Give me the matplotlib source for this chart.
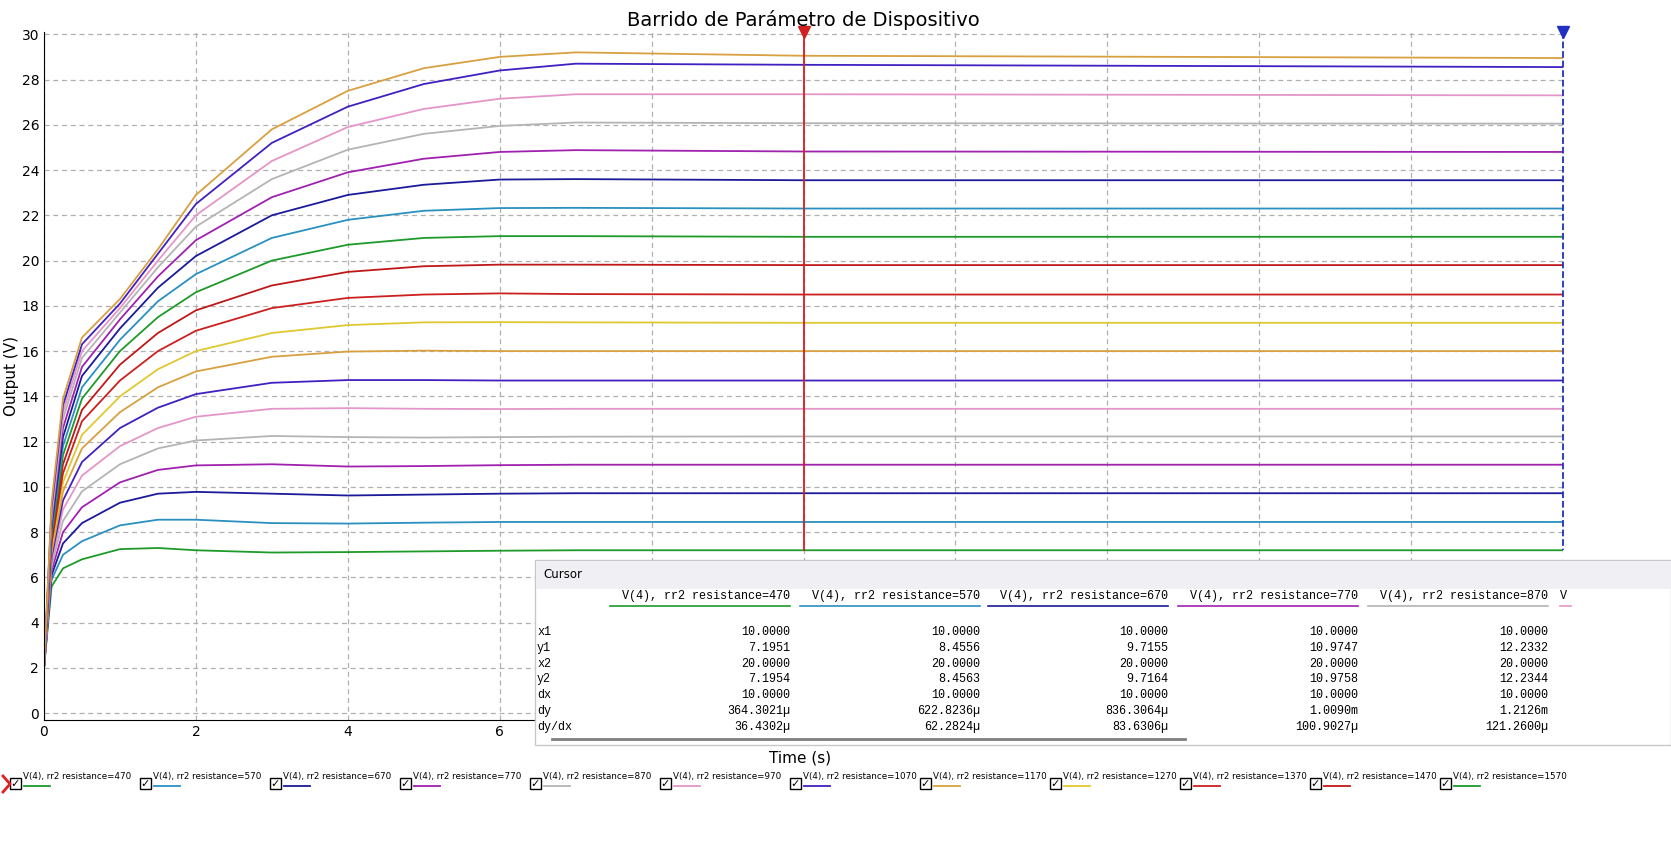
import numpy as np
import matplotlib.pyplot as plt
from matplotlib.patches import Rectangle

# sweep data
resistances = [470, 570, 670, 770, 870, 970, 1070, 1170, 1270, 1370,
               1470, 1570, 1670, 1770, 1870, 1970, 2070, 2170, 2270]
t = [0, 0.1, 0.25, 0.5, 1, 1.5, 2, 3, 4, 5, 6, 7, 10, 20]
v = [
    [2, 5.6, 6.4, 6.8, 7.25, 7.3, 7.2, 7.1, 7.12, 7.15, 7.18, 7.2, 7.2, 7.2],
    [2, 5.9, 7.0, 7.6, 8.3, 8.55, 8.55, 8.4, 8.38, 8.42, 8.45, 8.45, 8.45, 8.45],
    [2, 6.1, 7.5, 8.4, 9.3, 9.7, 9.78, 9.7, 9.62, 9.66, 9.7, 9.72, 9.72, 9.72],
    [2, 6.3, 8.0, 9.1, 10.2, 10.75, 10.95, 11.0, 10.9, 10.92, 10.96, 10.98, 10.98, 10.98],
    [2, 6.5, 8.5, 9.8, 11.0, 11.7, 12.05, 12.25, 12.2, 12.18, 12.2, 12.22, 12.23, 12.23],
    [2, 6.7, 9.0, 10.5, 11.8, 12.6, 13.1, 13.45, 13.48, 13.45, 13.44, 13.45, 13.45, 13.45],
    [2, 6.9, 9.4, 11.1, 12.6, 13.5, 14.1, 14.6, 14.72, 14.72, 14.7, 14.7, 14.7, 14.7],
    [2, 7.1, 9.8, 11.7, 13.3, 14.4, 15.1, 15.75, 15.98, 16.02, 16.0, 16.0, 16.0, 16.0],
    [2, 7.3, 10.2, 12.3, 14.0, 15.2, 16.0, 16.8, 17.15, 17.27, 17.28, 17.27, 17.25, 17.25],
    [2, 7.5, 10.6, 12.9, 14.7, 16.0, 16.9, 17.9, 18.35, 18.5, 18.55, 18.52, 18.5, 18.5],
    [2, 7.7, 11.0, 13.4, 15.4, 16.8, 17.8, 18.9, 19.5, 19.75, 19.82, 19.82, 19.8, 19.8],
    [2, 7.9, 11.4, 13.9, 16.0, 17.5, 18.6, 20.0, 20.7, 21.0, 21.08, 21.08, 21.05, 21.05],
    [2, 8.1, 11.8, 14.4, 16.5, 18.2, 19.4, 21.0, 21.8, 22.2, 22.32, 22.33, 22.3, 22.3],
    [2, 8.3, 12.2, 14.9, 17.0, 18.8, 20.2, 22.0, 22.9, 23.35, 23.58, 23.6, 23.55, 23.55],
    [2, 8.5, 12.6, 15.3, 17.4, 19.3, 20.9, 22.8, 23.9, 24.5, 24.8, 24.88, 24.82, 24.8],
    [2, 8.7, 13.0, 15.7, 17.7, 19.7, 21.5, 23.6, 24.9, 25.6, 25.95, 26.1, 26.07, 26.05],
    [2, 8.9, 13.3, 16.0, 17.9, 20.0, 22.0, 24.4, 25.9, 26.7, 27.15, 27.35, 27.35, 27.3],
    [2, 9.1, 13.6, 16.3, 18.1, 20.3, 22.5, 25.2, 26.8, 27.8, 28.4, 28.7, 28.65, 28.55],
    [2, 9.3, 13.9, 16.6, 18.3, 20.5, 22.9, 25.8, 27.5, 28.5, 29.0, 29.2, 29.05, 28.95],
]
colors = ['#1e9a2a', '#2a90c0', '#1a1a9a', '#a020b0', '#b4b4b4', '#e496c8',
          '#4020c0', '#d8a040', '#e0c830', '#cc2020', '#c01818']

# cursor table
cursor_cols = [470, 570, 670, 770, 870]
rows = ['x1', 'y1', 'x2', 'y2', 'dx', 'dy', 'dy/dx']
x1 = ['10.0000'] * 5
y1 = ['7.1951', '8.4556', '9.7155', '10.9747', '12.2332']
x2 = ['20.0000'] * 5
y2 = ['7.1954', '8.4563', '9.7164', '10.9758', '12.2344']
dx = ['10.0000'] * 5
dy = ['364.3021µ', '622.8236µ', '836.3064µ', '1.0090m', '1.2126m']
dydx = ['36.4302µ', '62.2824µ', '83.6306µ', '100.9027µ', '121.2600µ']

fig = plt.figure(figsize=(16.71, 8.44), dpi=100)
ax = fig.add_axes([44/1671, 124/844, 1519/1671, 688/844])
for i, r in enumerate(resistances):
    ax.plot(t, v[i], color=colors[i % 11], lw=1.3)
ax.set_xlim(0, 20)
ax.set_ylim(-0.3, 30.1)
ax.set_yticks(range(0, 31, 2))
ax.set_xticks(range(0, 21, 2))
ax.grid(True, ls=(0, (4, 3)), color='#b0b0b0', lw=0.9)
for s in ['top', 'right']:
    ax.spines[s].set_visible(False)
ax.tick_params(labelsize=10, length=0)
ax.set_ylabel('Output (V)', fontsize=11, labelpad=2)
ax.set_title('Barrido de Parámetro de Dispositivo', fontsize=14, pad=4)

# cursors
ax.plot([10, 10], [30.1, 7.2], color='#d02020', lw=1.3, clip_on=False)
ax.plot([10], [30.1], marker='v', color='#d02020', ms=8, clip_on=False)
ax.plot([20, 20], [30.1, 7.2], color='#2030c0', lw=1.3, ls='--', clip_on=False)
ax.plot([20], [30.1], marker='v', color='#2030c0', ms=8, clip_on=False)

# overlay in pixel coordinates
ov = fig.add_axes([0, 0, 1, 1])
ov.set_xlim(0, 1671)
ov.set_ylim(844, 0)
ov.axis('off')
ov.patch.set_alpha(0)
ov.text(800, 758, 'Time (s)', fontsize=11, ha='center', va='center')

ov.add_patch(Rectangle((535, 560), 1136, 185, facecolor='white', edgecolor='#c8c8c8', lw=1))
ov.add_patch(Rectangle((536, 561), 1135, 28, facecolor='#f0f0f4', edgecolor='none'))
ov.text(543, 575, 'Cursor', fontsize=8.5, va='center')
mono = dict(family='Liberation Mono', fontsize=8.5, va='center')
col_right = [790, 980, 1168, 1358, 1548]
for j, r in enumerate(cursor_cols):
    ov.text(col_right[j], 596, 'V(4), rr2 resistance=%d' % r, ha='right', **mono)
    ov.plot([col_right[j] - 180, col_right[j]], [606, 606], color=colors[j], lw=1.2)
ov.text(1560, 596, 'V', ha='left', **mono)
ov.plot([1560, 1571], [606, 606], color=colors[5], lw=1.2)
table = [x1, y1, x2, y2, dx, dy, dydx]
for k, name in enumerate(rows):
    yy = 632 + 15.8 * k
    ov.text(537, yy, name, ha='left', **mono)
    for j in range(5):
        ov.text(col_right[j], yy, table[k][j], ha='right', **mono)
ov.plot([552, 1185], [739, 739], color='#808080', lw=2)

# bottom legend
leg_x = [10, 140, 270, 400, 530, 660, 790, 920, 1050, 1180, 1310, 1440]
for j, r in enumerate(resistances[:12]):
    x0 = leg_x[j]
    ov.add_patch(Rectangle((x0, 778), 11, 11, facecolor='white', edgecolor='black', lw=1))
    ov.text(x0 + 5.5, 784, '✓', fontsize=8, ha='center', va='center', fontweight='bold')
    ov.text(x0 + 13, 776, 'V(4), rr2 resistance=%d' % r, fontsize=6.3, va='center')
    ov.plot([x0 + 14, x0 + 40], [786, 786], color=colors[j % 11], lw=1.3)
ov.plot([3, 10, 3], [776, 784, 792], color='#e02020', lw=2)

fig.savefig('out.png', dpi=100)
